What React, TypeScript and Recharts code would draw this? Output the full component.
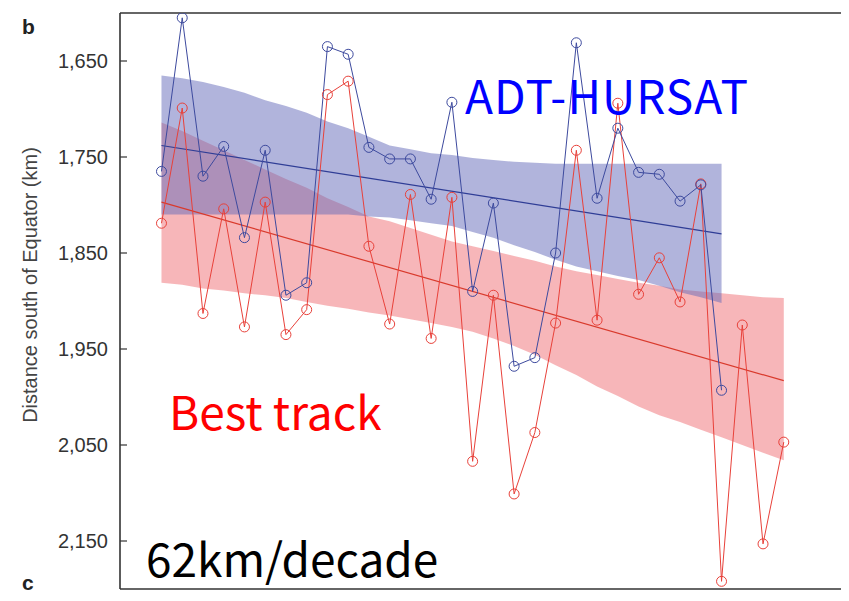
import { ComposedChart, Line, Area, XAxis, YAxis } from 'recharts';

// years on the x axis (ADT-HURSAT stops in 2009, best track in 2012)
const years = [
  1982, 1983, 1984, 1985, 1986, 1987, 1988, 1989, 1990, 1991, 1992, 1993, 1994, 1995, 1996, 1997,
  1998, 1999, 2000, 2001, 2002, 2003, 2004, 2005, 2006, 2007, 2008, 2009, 2010, 2011, 2012,
];

// distance south of Equator (km)
const adtHursat = [
  1765, 1605, 1770, 1739, 1834, 1743, 1894, 1881, 1635, 1643, 1740, 1752, 1752, 1794, 1693, 1890,
  1798, 1968, 1959, 1850, 1631, 1793, 1720, 1766, 1768, 1796, 1779, 1993,
];
const bestTrack = [
  1819, 1699, 1913, 1804, 1927, 1797, 1935, 1909, 1685, 1671, 1843, 1924, 1789, 1939, 1792, 2067,
  1894, 2101, 2037, 1923, 1743, 1920, 1694, 1893, 1855, 1901, 1778, 2192, 1925, 2153, 2047,
];

// shaded bands around the fits
const adtBandTop = [
  1665, 1668, 1672, 1677, 1683, 1691, 1697, 1704, 1713, 1720, 1729, 1738, 1742, 1746, 1748, 1751,
  1753, 1755, 1756, 1757, 1757, 1757, 1757, 1757, 1757, 1757, 1757, 1757,
];
const adtBandBottom = [
  1810, 1810, 1810, 1810, 1810, 1810, 1810, 1810, 1810, 1810, 1812, 1813, 1816, 1819, 1822, 1828,
  1834, 1842, 1849, 1857, 1864, 1869, 1874, 1878, 1884, 1891, 1896, 1902,
];
const bestBandTop = [
  1714, 1723, 1733, 1743, 1753, 1763, 1773, 1782, 1793, 1802, 1812, 1817, 1824, 1831, 1838, 1843,
  1848, 1853, 1858, 1864, 1869, 1873, 1877, 1881, 1884, 1888, 1890, 1892, 1894, 1896, 1897,
];
const bestBandBottom = [
  1881, 1883, 1887, 1889, 1892, 1894, 1897, 1901, 1905, 1908, 1912, 1915, 1919, 1923, 1927, 1932,
  1939, 1947, 1956, 1967, 1977, 1989, 1999, 2010, 2019, 2026, 2034, 2042, 2050, 2058, 2066,
];

// linear fits, start and end value
const adtTrend = [1738, 1830];
const bestTrend = [1797, 1983];

const xTicks = [1980, 1985, 1990, 1995, 2000, 2005, 2010, 2015];
const yTicks = [1650, 1750, 1850, 1950, 2050, 2150];

const BLUE = '#3d4a9e';
const RED = '#e8413a';
const AXIS = '#333';
const SANS = 'Liberation Sans, Arial, sans-serif';
const ANNOT = 'Noto Sans CJK KR, Noto Sans, sans-serif';

const data = years.map((year, i) => ({
  year,
  adt: i < adtHursat.length ? adtHursat[i] : null,
  best: bestTrack[i],
  adtBand: i < adtBandTop.length ? [adtBandTop[i], adtBandBottom[i]] : null,
  bestBand: [bestBandTop[i], bestBandBottom[i]],
  adtFit: i === 0 ? adtTrend[0] : i === adtHursat.length - 1 ? adtTrend[1] : null,
  bestFit: i === 0 ? bestTrend[0] : i === bestTrack.length - 1 ? bestTrend[1] : null,
}));

const W = 841;
const H = 593;

export default function App() {
  return (
    <div style={{ position: 'relative', width: W, height: H }}>
      <ComposedChart width={W} height={H} data={data} margin={{ top: 0, right: 0, bottom: 0, left: 0 }}>
        <XAxis
          dataKey="year"
          type="number"
          domain={[1980, 2015]}
          ticks={xTicks}
          tick={false}
          tickSize={-7}
          height={12}
          allowDataOverflow
          axisLine={{ stroke: AXIS, strokeWidth: 1.6 }}
          tickLine={{ stroke: AXIS, strokeWidth: 1.2 }}
        />
        <XAxis
          xAxisId="top"
          orientation="top"
          dataKey="year"
          type="number"
          domain={[1980, 2015]}
          ticks={xTicks}
          tick={false}
          tickSize={-7}
          height={5}
          allowDataOverflow
          axisLine={{ stroke: AXIS, strokeWidth: 1.6 }}
          tickLine={{ stroke: AXIS, strokeWidth: 1.2 }}
        />
        <YAxis
          reversed
          type="number"
          domain={[1600, 2200]}
          ticks={yTicks}
          width={112}
          tickSize={-7}
          tickMargin={19}
          allowDataOverflow
          tickFormatter={(v: number) => v.toLocaleString('en-US')}
          tick={{ fill: AXIS, fontSize: 20, fontFamily: SANS }}
          axisLine={{ stroke: AXIS, strokeWidth: 1.6 }}
          tickLine={{ stroke: AXIS, strokeWidth: 1.2 }}
        />
        <YAxis
          yAxisId="right"
          orientation="right"
          reversed
          type="number"
          domain={[1600, 2200]}
          ticks={yTicks}
          width={3}
          tick={false}
          tickSize={-10}
          allowDataOverflow
          axisLine={{ stroke: AXIS, strokeWidth: 1.6 }}
          tickLine={{ stroke: AXIS, strokeWidth: 1.2 }}
        />

        <Area
          dataKey="bestBand"
          stroke="none"
          fill="#f06e73"
          fillOpacity={0.5}
          isAnimationActive={false}
          activeDot={false}
        />
        <Area
          dataKey="adtBand"
          stroke="none"
          fill="#6469b9"
          fillOpacity={0.5}
          isAnimationActive={false}
          activeDot={false}
        />

        <Line
          dataKey="bestFit"
          stroke="#d93a2c"
          strokeWidth={1.2}
          dot={false}
          activeDot={false}
          connectNulls
          isAnimationActive={false}
        />
        <Line
          dataKey="adtFit"
          stroke="#2f3d96"
          strokeWidth={1.2}
          dot={false}
          activeDot={false}
          connectNulls
          isAnimationActive={false}
        />
        <Line
          dataKey="best"
          stroke={RED}
          strokeWidth={1}
          dot={{ r: 5, fill: 'none', stroke: RED, strokeWidth: 1 }}
          activeDot={false}
          isAnimationActive={false}
        />
        <Line
          dataKey="adt"
          stroke={BLUE}
          strokeWidth={1}
          dot={{ r: 5, fill: 'none', stroke: BLUE, strokeWidth: 1 }}
          activeDot={false}
          isAnimationActive={false}
        />
      </ComposedChart>

      {/* panel letters, axis title and the big annotations */}
      <svg width={W} height={H} style={{ position: 'absolute', left: 0, top: 0, pointerEvents: 'none' }}>
        <text x={14} y={26} fontSize={21} fontWeight="bold" fontFamily={SANS} fill="#222">
          b
        </text>
        <text x={14} y={582} fontSize={21} fontWeight="bold" fontFamily={SANS} fill="#222">
          c
        </text>
        <text transform="translate(29, 277) rotate(-90)" textAnchor="middle" fontSize={20} fontFamily={SANS} fill="#444">
          Distance south of Equator (km)
        </text>
        <text x={457} y={106} fontSize={46} fontFamily={ANNOT} fill="#0000ff" textLength={283} lengthAdjust="spacing">
          ADT-HURSAT
        </text>
        <text x={161} y={422} fontSize={46} fontFamily={ANNOT} fill="#ff0000">
          Best track
        </text>
        <text x={138} y={569} fontSize={46} fontFamily={ANNOT} fill="#000">
          62km/decade
        </text>
      </svg>
    </div>
  );
}
